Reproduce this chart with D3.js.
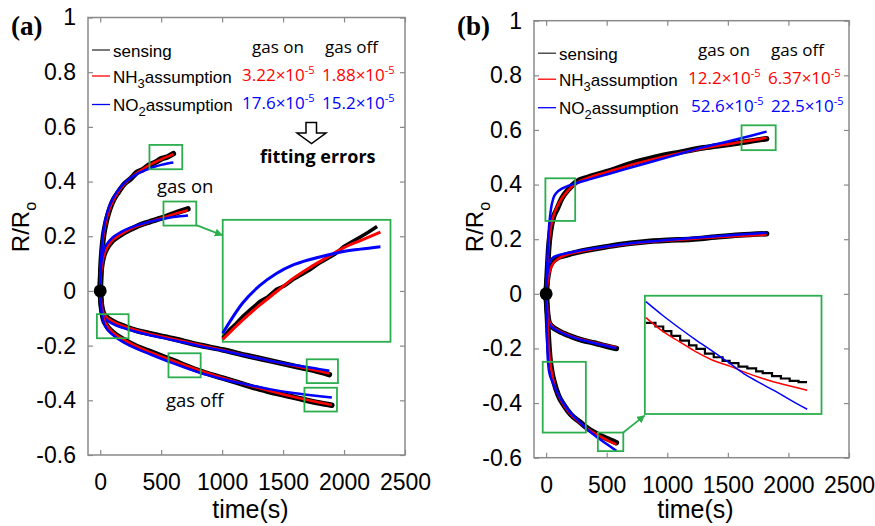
<!DOCTYPE html>
<html>
<head>
<meta charset="utf-8">
<script src="https://cdn.jsdelivr.net/npm/d3@7"></script>
<style>
	body { margin: 0; background: #fff; }
</style>
</head>
<body>
<div id="chartDiv"></div>
<script>
;(function() {

	var width = 875;
	var height = 526;

	// axes shared by both panels
	var xDomain = [-100, 2500];
	var yDomain = [-0.6, 1];
	var xTickValues = [0, 500, 1000, 1500, 2000, 2500];
	var yTickValues = [-0.6, -0.4, -0.2, 0, 0.2, 0.4, 0.6, 0.8, 1];
	var xAxisLabelHeader = "time(s)";

	// ---- panel (a) curves: time (s) and R/Ro ----
	var timeA1 = [0, 5, 15, 30, 50, 75, 100, 150, 200, 250, 300, 350, 400, 450, 500, 550, 600];
	var senseA1 = [0, 0.075, 0.15, 0.21, 0.255, 0.295, 0.325, 0.362, 0.392, 0.41, 0.433, 0.444, 0.46, 0.47, 0.483, 0.49, 0.502];
	var nh3A1 = [0, 0.08, 0.154, 0.212, 0.258, 0.297, 0.324, 0.363, 0.391, 0.413, 0.431, 0.446, 0.459, 0.471, 0.481, 0.491, 0.5];
	var no2A1 = [0, 0.09, 0.17, 0.23, 0.275, 0.31, 0.335, 0.37, 0.395, 0.413, 0.427, 0.438, 0.447, 0.455, 0.461, 0.466, 0.47];

	var timeA2 = [0, 5, 15, 30, 60, 100, 150, 200, 300, 400, 500, 600, 720];
	var senseA2 = [0, 0.06, 0.1, 0.13, 0.16, 0.183, 0.2, 0.214, 0.236, 0.252, 0.266, 0.282, 0.3];
	var nh3A2 = [0, 0.055, 0.095, 0.128, 0.16, 0.185, 0.201, 0.215, 0.236, 0.252, 0.266, 0.28, 0.295];
	var no2A2 = [0, 0.08, 0.12, 0.15, 0.175, 0.195, 0.21, 0.222, 0.24, 0.252, 0.262, 0.27, 0.276];

	var timeA3 = [0, 10, 25, 50, 100, 200, 300, 400, 600, 800, 1000, 1200, 1400, 1600, 1800, 1880];
	var senseA3 = [0, -0.05, -0.08, -0.095, -0.11, -0.13, -0.145, -0.155, -0.175, -0.197, -0.215, -0.236, -0.256, -0.276, -0.296, -0.306];
	var nh3A3 = [0, -0.05, -0.078, -0.095, -0.11, -0.13, -0.144, -0.156, -0.176, -0.196, -0.216, -0.236, -0.256, -0.275, -0.294, -0.302];
	var no2A3 = [0, -0.06, -0.09, -0.105, -0.12, -0.137, -0.15, -0.161, -0.18, -0.2, -0.218, -0.237, -0.256, -0.272, -0.286, -0.292];

	var timeA4 = [0, 10, 25, 50, 100, 200, 300, 400, 600, 800, 1000, 1200, 1400, 1600, 1800, 1900];
	var senseA4 = [0, -0.06, -0.1, -0.125, -0.15, -0.18, -0.203, -0.22, -0.255, -0.29, -0.318, -0.345, -0.37, -0.39, -0.41, -0.418];
	var nh3A4 = [0, -0.055, -0.095, -0.122, -0.15, -0.18, -0.203, -0.222, -0.256, -0.288, -0.317, -0.343, -0.367, -0.389, -0.408, -0.417];
	var no2A4 = [0, -0.07, -0.11, -0.135, -0.16, -0.19, -0.212, -0.23, -0.265, -0.297, -0.322, -0.342, -0.36, -0.374, -0.385, -0.39];

	// ---- panel (b) curves ----
	var timeB1 = [0, 10, 20, 40, 60, 90, 130, 180, 250, 350, 500, 700, 900, 1100, 1300, 1500, 1700, 1820];
	var senseB1 = [0, 0.08, 0.16, 0.24, 0.28, 0.31, 0.35, 0.38, 0.41, 0.427, 0.447, 0.477, 0.5, 0.518, 0.535, 0.547, 0.56, 0.568];
	var nh3B1 = [0, 0.09, 0.17, 0.245, 0.285, 0.318, 0.35, 0.378, 0.405, 0.425, 0.445, 0.472, 0.495, 0.515, 0.533, 0.548, 0.562, 0.572];
	var no2B1 = [0, 0.12, 0.22, 0.31, 0.35, 0.372, 0.385, 0.395, 0.405, 0.418, 0.437, 0.462, 0.487, 0.512, 0.537, 0.558, 0.58, 0.594];

	var timeB2 = [0, 10, 25, 50, 90, 150, 250, 400, 600, 800, 1000, 1200, 1400, 1600, 1820];
	var senseB2 = [0, 0.05, 0.09, 0.115, 0.13, 0.14, 0.152, 0.165, 0.18, 0.19, 0.196, 0.2, 0.208, 0.215, 0.22];
	var nh3B2 = [0, 0.035, 0.075, 0.105, 0.125, 0.14, 0.152, 0.165, 0.178, 0.188, 0.195, 0.201, 0.207, 0.212, 0.217];
	var no2B2 = [0, 0.07, 0.11, 0.13, 0.14, 0.147, 0.156, 0.167, 0.18, 0.19, 0.197, 0.204, 0.211, 0.217, 0.224];

	var timeB3 = [0, 10, 25, 50, 100, 200, 300, 400, 500, 580];
	var senseB3 = [0, -0.06, -0.105, -0.12, -0.135, -0.155, -0.17, -0.18, -0.192, -0.2];
	var nh3B3 = [0, -0.055, -0.1, -0.118, -0.134, -0.154, -0.168, -0.179, -0.189, -0.196];
	var no2B3 = [0, -0.065, -0.108, -0.122, -0.136, -0.156, -0.17, -0.181, -0.191, -0.199];

	var timeB4 = [0, 10, 20, 30, 45, 70, 100, 150, 200, 280, 350, 430, 500, 580];
	var senseB4 = [0, -0.08, -0.17, -0.23, -0.28, -0.33, -0.37, -0.41, -0.44, -0.47, -0.495, -0.515, -0.53, -0.545];
	var nh3B4 = [0, -0.09, -0.18, -0.235, -0.285, -0.335, -0.37, -0.41, -0.44, -0.472, -0.497, -0.518, -0.535, -0.552];
	var no2B4 = [0, -0.2, -0.27, -0.295, -0.315, -0.34, -0.368, -0.405, -0.435, -0.47, -0.5, -0.528, -0.55, -0.575];

	// ---- zoomed insets, in fractions of the inset box ----
	var insetASenseX = [0, 0.04, 0.08, 0.12, 0.17, 0.22, 0.27, 0.32, 0.37, 0.42, 0.47, 0.52, 0.57, 0.62, 0.67, 0.72, 0.77, 0.82, 0.87, 0.92];
	var insetASenseY = [0.03, 0.1, 0.15, 0.21, 0.27, 0.33, 0.37, 0.43, 0.46, 0.51, 0.55, 0.59, 0.64, 0.68, 0.72, 0.78, 0.82, 0.86, 0.9, 0.945];
	var insetAFitX = [0, 0.12, 0.22, 0.32, 0.42, 0.52, 0.62, 0.72, 0.82, 0.94];
	var insetANh3Y = [0.02, 0.18, 0.3, 0.41, 0.52, 0.61, 0.69, 0.77, 0.83, 0.9];
	var insetANo2Y = [0.07, 0.32, 0.46, 0.56, 0.63, 0.675, 0.71, 0.74, 0.76, 0.78];

	var insetBSenseX = [0.006, 0.06, 0.104, 0.15, 0.2, 0.25, 0.292, 0.34, 0.39, 0.44, 0.48, 0.53, 0.58, 0.63, 0.667, 0.72, 0.77, 0.82, 0.87, 0.912];
	var insetBSenseY = [0.77, 0.74, 0.7, 0.66, 0.62, 0.58, 0.55, 0.51, 0.48, 0.45, 0.43, 0.4, 0.385, 0.36, 0.345, 0.32, 0.3, 0.28, 0.27, 0.26];
	var insetBFitX = [0.006, 0.1, 0.197, 0.29, 0.384, 0.48, 0.572, 0.667, 0.76, 0.84, 0.919];
	var insetBNh3Y = [0.815, 0.7, 0.61, 0.525, 0.455, 0.405, 0.35, 0.3, 0.26, 0.23, 0.2];
	var insetBNo2Y = [0.95, 0.835, 0.725, 0.625, 0.53, 0.43, 0.33, 0.25, 0.175, 0.105, 0.04];

	// fitting errors shown in the legends
	var errorColumns = ["gas on", "gas off"];
	var errorsA = { nh3: ["3.22", "1.88"], no2: ["17.6", "15.2"] };
	var errorsB = { nh3: ["12.2", "6.37"], no2: ["52.6", "22.5"] };

	var colSense = "#000";
	var colNH3 = "#ff0000";
	var colNO2 = "#0000ff";
	var colGreen = "#2cae4e";
	var colFrame = "#8a8a8a";

	var panels = [
		{
			label: "(a)", labelX: 11, left: 88, right: 405, top: 17.5, bottom: 455, yTitleX: 28.5,
			curves: [[timeA1, senseA1, nh3A1, no2A1], [timeA2, senseA2, nh3A2, no2A2],
				[timeA3, senseA3, nh3A3, no2A3], [timeA4, senseA4, nh3A4, no2A4]],
			errors: errorsA, no2Shift: 0,
			boxes: [[404, 673, 0.445, 0.534], [519, 788, 0.239, 0.327], [-27, 233, -0.173, -0.085],
				[560, 824, -0.316, -0.228], [1694, 1950, -0.337, -0.25], [1675, 1942, -0.441, -0.354]],
			inset: [1005, 2381, -0.186, 0.26],
			arrow: [788, 0.241, 1000, 0.204],
			insetData: { sx: insetASenseX, sy: insetASenseY, fx: insetAFitX, nh3: insetANh3Y, no2: insetANo2Y, step: false }
		},
		{
			label: "(b)", labelX: 457, left: 534, right: 849, top: 20.7, bottom: 457.7, yTitleX: 483,
			curves: [[timeB1, senseB1, nh3B1, no2B1], [timeB2, senseB2, nh3B2, no2B2],
				[timeB3, senseB3, nh3B3, no2B3], [timeB4, senseB4, nh3B4, no2B4]],
			errors: errorsB, no2Shift: 3,
			boxes: [[-6, 240, 0.267, 0.423], [1613, 1895, 0.526, 0.617], [-28, 328, -0.508, -0.249], [427, 637, -0.576, -0.508]],
			inset: [815, 2273, -0.44, -0.007],
			arrow: [637, -0.508, 812, -0.446],
			insetData: { sx: insetBSenseX, sy: insetBSenseY, fx: insetBFitX, nh3: insetBNh3Y, no2: insetBNo2Y, step: true }
		}
	];

	var svg = d3.select("#chartDiv").append("svg")
		.attr("width", width)
		.attr("height", height)
		.style("font-family", "'Liberation Sans', Arial, sans-serif");

	svg.append("defs").append("marker")
		.attr("id", "greenHead")
		.attr("viewBox", "0 0 10 10")
		.attr("refX", 9).attr("refY", 5)
		.attr("markerWidth", 4.5).attr("markerHeight", 4.5)
		.attr("markerUnits", "strokeWidth")
		.attr("orient", "auto")
		.append("path")
		.attr("d", "M0,0 L10,5 L0,10 Z")
		.attr("fill", colGreen);

	panels.forEach(drawPanel);

	// hollow arrow and note in panel (a)
	svg.append("path")
		.attr("d", "M306,122.5 L316.5,122.5 L316.5,133 L326,133 L311.5,143.5 L297,133 L306,133 Z")
		.attr("fill", "#fff").attr("stroke", "#000").attr("stroke-width", 1.5);
	svg.append("text")
		.attr("x", 260).attr("y", 163)
		.style("font-family", "'Open Sans', sans-serif")
		.style("font-weight", "bold").style("font-size", "18px")
		.text("fitting errors");
	svg.append("text")
		.attr("x", 157).attr("y", 193)
		.style("font-family", "'Open Sans', sans-serif").style("font-size", "18.5px")
		.text("gas on");
	svg.append("text")
		.attr("x", 166).attr("y", 407)
		.style("font-family", "'Open Sans', sans-serif").style("font-size", "18.5px")
		.text("gas off");

	function drawPanel(p) {
		var xScale = d3.scaleLinear().domain(xDomain).range([p.left, p.right]);
		var yScale = d3.scaleLinear().domain(yDomain).range([p.bottom, p.top]);
		var g = svg.append("g");

		// frame with inward ticks on all sides
		g.append("rect")
			.attr("x", p.left).attr("y", p.top)
			.attr("width", p.right - p.left).attr("height", p.bottom - p.top)
			.attr("fill", "none").attr("stroke", colFrame).attr("stroke-width", 1.5);

		var xAxis = d3.axisBottom(xScale).tickValues(xTickValues).tickSize(-5).tickPadding(19)
			.tickFormat(function(d) { return String(d); });
		var yAxis = d3.axisLeft(yScale).tickValues(yTickValues).tickSize(-5).tickPadding(12)
			.tickFormat(function(d) { return String(d); });

		styleAxis(g.append("g").attr("transform", "translate(0," + p.bottom + ")").call(xAxis));
		styleAxis(g.append("g").attr("transform", "translate(" + p.left + ",0)").call(yAxis));
		styleAxis(g.append("g").attr("transform", "translate(0," + p.top + ")")
			.call(d3.axisTop(xScale).tickValues(xTickValues).tickSize(-5).tickFormat("")));
		styleAxis(g.append("g").attr("transform", "translate(" + p.right + ",0)")
			.call(d3.axisRight(yScale).tickValues(yTickValues).tickSize(-5).tickFormat("")));

		// axis titles
		g.append("text")
			.attr("x", (p.left + p.right) / 2 + 4).attr("y", 518)
			.attr("text-anchor", "middle")
			.style("font-size", "25px")
			.text(xAxisLabelHeader);

		var yTitle = g.append("text")
			.attr("text-anchor", "middle")
			.attr("transform", "translate(" + p.yTitleX + "," + 227 + ") rotate(-90)")
			.style("font-size", "24px");
		yTitle.append("tspan").text("R/R");
		yTitle.append("tspan").attr("dy", 7).style("font-size", "16px").text("o");

		// panel letter
		g.append("text")
			.attr("x", p.labelX).attr("y", 35)
			.style("font-family", "'Liberation Serif', 'Times New Roman', serif")
			.style("font-weight", "bold").style("font-size", "27px")
			.text(p.label);

		// curves: sensing, NH3 fit, NO2 fit
		var line = d3.line()
			.x(function(d) { return xScale(d[0]); })
			.y(function(d) { return yScale(d[1]); })
			.curve(d3.curveMonotoneX);

		p.curves.forEach(function(c) {
			var t = c[0];
			g.append("path").attr("d", line(d3.zip(t, c[1])))
				.attr("fill", "none").attr("stroke", colSense).attr("stroke-width", 5.5)
				.attr("stroke-linejoin", "round").attr("stroke-linecap", "round");
		});
		p.curves.forEach(function(c) {
			var t = c[0];
			g.append("path").attr("d", line(d3.zip(t, c[2])))
				.attr("fill", "none").attr("stroke", colNH3).attr("stroke-width", 2.5);
			g.append("path").attr("d", line(d3.zip(t, c[3])))
				.attr("fill", "none").attr("stroke", colNO2).attr("stroke-width", 2.5);
		});

		g.append("circle")
			.attr("cx", xScale(0)).attr("cy", yScale(0))
			.attr("r", 6.5).attr("fill", "#000");

		// green highlight boxes
		g.selectAll(".hl").data(p.boxes).enter().append("rect")
			.attr("class", "hl")
			.attr("x", function(d) { return xScale(d[0]); })
			.attr("y", function(d) { return yScale(d[3]); })
			.attr("width", function(d) { return xScale(d[1]) - xScale(d[0]); })
			.attr("height", function(d) { return yScale(d[2]) - yScale(d[3]); })
			.attr("fill", "none").attr("stroke", colGreen).attr("stroke-width", 1.8);

		// inset
		var ib = p.inset;
		var ix0 = xScale(ib[0]), ix1 = xScale(ib[1]), iy0 = yScale(ib[3]), iy1 = yScale(ib[2]);
		g.append("rect")
			.attr("x", ix0).attr("y", iy0).attr("width", ix1 - ix0).attr("height", iy1 - iy0)
			.attr("fill", "#fff").attr("stroke", colGreen).attr("stroke-width", 1.8);

		g.append("line")
			.attr("x1", xScale(p.arrow[0])).attr("y1", yScale(p.arrow[1]))
			.attr("x2", xScale(p.arrow[2])).attr("y2", yScale(p.arrow[3]))
			.attr("stroke", colGreen).attr("stroke-width", 1.8)
			.attr("marker-end", "url(#greenHead)");

		var inX = d3.scaleLinear().domain([0, 1]).range([ix0, ix1]);
		var inY = d3.scaleLinear().domain([0, 1]).range([iy1, iy0]);
		var d = p.insetData;
		var inLine = d3.line()
			.x(function(e) { return inX(e[0]); })
			.y(function(e) { return inY(e[1]); });
		var fitLine = d3.line()
			.x(function(e) { return inX(e[0]); })
			.y(function(e) { return inY(e[1]); })
			.curve(d3.curveMonotoneX);
		var ig = g.append("g");
		ig.append("path").attr("d", inLine.curve(d.step ? d3.curveStepAfter : d3.curveLinear)(d3.zip(d.sx, d.sy)))
			.attr("fill", "none").attr("stroke", colSense).attr("stroke-width", d.step ? 2.2 : 3.5);
		ig.append("path").attr("d", fitLine(d3.zip(d.fx, d.nh3)))
			.attr("fill", "none").attr("stroke", colNH3).attr("stroke-width", d.step ? 1.5 : 3);
		ig.append("path").attr("d", fitLine(d3.zip(d.fx, d.no2)))
			.attr("fill", "none").attr("stroke", colNO2).attr("stroke-width", d.step ? 1.5 : 3);

		drawLegend(g, p);
	}

	function styleAxis(sel) {
		sel.select(".domain").remove();
		sel.selectAll(".tick line").attr("stroke", colFrame).attr("stroke-width", 1.2);
		sel.selectAll(".tick text")
			.attr("fill", "#000")
			.style("font-family", "'Liberation Sans', Arial, sans-serif")
			.style("font-size", "23px");
	}

	function drawLegend(g, p) {
		var lx = p.left;
		var ty = p.top;
		var rows = [
			{ color: "#333", lineY: 32.5, name: ["sensing"] },
			{ color: colNH3, lineY: 58.5, name: ["NH", "3", "assumption"], vals: p.errors.nh3, valColor: colNH3 },
			{ color: colNO2, lineY: 87, name: ["NO", "2", "assumption"], vals: p.errors.no2, valColor: colNO2 }
		];
		var baselines = [39, 65, 93.5];
		var valBaselines = [35, 63.5, 91.5];

		rows.forEach(function(r, i) {
			g.append("line")
				.attr("x1", lx + 4).attr("x2", lx + 22)
				.attr("y1", ty + r.lineY).attr("y2", ty + r.lineY)
				.attr("stroke", r.color).attr("stroke-width", 1.3);
			var t = g.append("text")
				.attr("x", lx + 25).attr("y", ty + baselines[i])
				.style("font-size", "17px");
			t.append("tspan").text(r.name[0]);
			if (r.name.length > 1) {
				t.append("tspan").attr("dy", 5).style("font-size", "13px").text(r.name[1]);
				t.append("tspan").attr("dy", -5).text(r.name[2]);
			}
			if (r.vals) {
				r.vals.forEach(function(v, k) {
					var vt = g.append("text")
						.attr("x", lx + (k === 0 ? 154 : 234) + (i === 2 ? p.no2Shift : 0))
						.attr("y", ty + valBaselines[i])
						.attr("fill", r.valColor)
						.style("font-family", "'Open Sans', sans-serif")
						.style("font-size", "17px");
					vt.append("tspan").text(v + "\u00d710");
					vt.append("tspan").attr("dy", -7).style("font-size", "11px").text("-5");
				});
			}
		});

		errorColumns.forEach(function(c, k) {
			g.append("text")
				.attr("x", lx + (k === 0 ? 164 : 237)).attr("y", ty + valBaselines[0])
				.style("font-family", "'Open Sans', sans-serif")
				.style("font-size", "17px")
				.text(c);
		});
	}
})();
</script>
</body>
</html>
